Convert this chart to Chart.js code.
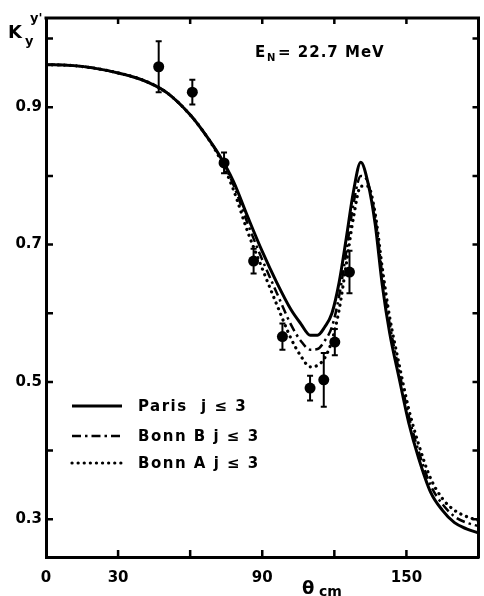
<!DOCTYPE html>
<html><head><meta charset="utf-8">
<script src="https://cdn.jsdelivr.net/npm/chart.js@4/dist/chart.umd.min.js"></script>
<style>html,body{margin:0;padding:0;background:#fff}#wrap{width:484px;height:596px}</style>
</head><body><div id="wrap"><canvas id="c" width="484" height="596"></canvas></div>
<script>
// ---- data ----
const angles = [0,10,20,30,40,50,60,66,72,78,84,90,96,102,106,110,113,116,119,122,125,128,131,134,137,140,143,147,151,155,160,165,170,175,180];
const parisK = [0.962,0.961,0.957,0.950,0.940,0.922,0.889,0.862,0.831,0.792,0.740,0.690,0.645,0.605,0.585,0.568,0.568,0.580,0.600,0.645,0.710,0.778,0.820,0.790,0.730,0.640,0.572,0.505,0.440,0.390,0.340,0.313,0.295,0.286,0.280];
const bonnBK = [0.962,0.961,0.957,0.950,0.940,0.922,0.889,0.862,0.830,0.787,0.730,0.678,0.630,0.583,0.560,0.547,0.548,0.560,0.580,0.625,0.690,0.760,0.800,0.790,0.740,0.655,0.585,0.515,0.450,0.400,0.350,0.322,0.304,0.295,0.290];
const bonnAK = [0.962,0.961,0.957,0.950,0.940,0.922,0.889,0.862,0.828,0.780,0.718,0.665,0.613,0.563,0.538,0.522,0.524,0.535,0.560,0.605,0.672,0.740,0.785,0.785,0.745,0.665,0.595,0.525,0.460,0.410,0.360,0.330,0.313,0.304,0.298];
const expAngles = [46.9,60.9,74.1,86.4,98.4,109.9,115.6,120.2,126.3];
const expK = [0.959,0.922,0.819,0.676,0.566,0.491,0.503,0.558,0.660];
const expErr = [0.037,0.018,0.015,0.018,0.019,0.018,0.039,0.019,0.031];
const xTickLabels = ['0','30','90','150'];
const yTickLabels = ['0.3','0.5','0.7','0.9'];
const seriesLabels = ['Paris  j ≤ 3','Bonn B j ≤ 3','Bonn A j ≤ 3'];
const energyLabel = '= 22.7 MeV';

const FONT = '"DejaVu Sans", sans-serif';
const pts = (xs, ys) => xs.map((x, i) => ({x, y: ys[i]}));

const curveStyles = [
  {borderWidth: 3, borderDash: []},
  {borderWidth: 2.5, borderDash: [9, 4, 2.5, 4]},
  {borderWidth: 3.2, borderDash: [0.1, 6], borderCapStyle: 'round'}
];
const curveData = [parisK, bonnBK, bonnAK];

const datasets = curveData.map((ys, i) => Object.assign({
  label: seriesLabels[i], data: pts(angles, ys), showLine: true, pointRadius: 0,
  borderColor: '#000', backgroundColor: '#000', cubicInterpolationMode: 'monotone', fill: false
}, curveStyles[i]));
datasets.push({label: 'exp', data: pts(expAngles, expK), showLine: false, pointRadius: 5.5,
  pointBackgroundColor: '#000', pointBorderColor: '#000', pointBorderWidth: 0});

const decor = {
  id: 'decor',
  beforeDatasetsDraw(chart) {
    const ctx = chart.ctx, xs = chart.scales.x, ys = chart.scales.y;
    ctx.save();
    ctx.strokeStyle = '#000'; ctx.lineWidth = 2;
    expAngles.forEach((a, i) => {
      const px = xs.getPixelForValue(a);
      const top = ys.getPixelForValue(expK[i] + expErr[i]);
      const bot = ys.getPixelForValue(expK[i] - expErr[i]);
      ctx.beginPath(); ctx.moveTo(px, top); ctx.lineTo(px, bot); ctx.stroke();
      ctx.beginPath(); ctx.moveTo(px - 3, top); ctx.lineTo(px + 3, top);
      ctx.moveTo(px - 3, bot); ctx.lineTo(px + 3, bot); ctx.stroke();
    });
    ctx.restore();
  },
  afterDraw(chart) {
    const ctx = chart.ctx, a = chart.chartArea, xs = chart.scales.x, ys = chart.scales.y;
    ctx.save();
    ctx.strokeStyle = '#000'; ctx.lineCap = 'square';
    ctx.lineWidth = 3;
    ctx.beginPath(); ctx.moveTo(a.left, a.top); ctx.lineTo(a.right, a.top); ctx.lineTo(a.right, a.bottom); ctx.stroke();
    ctx.lineWidth = 2.5; ctx.lineCap = 'butt';
    xs.ticks.forEach(t => {
      if (t.value <= xs.min || t.value >= xs.max) return;
      const px = xs.getPixelForValue(t.value);
      ctx.beginPath(); ctx.moveTo(px, a.bottom); ctx.lineTo(px, a.bottom - 7);
      ctx.moveTo(px, a.top); ctx.lineTo(px, a.top + 6); ctx.stroke();
    });
    ys.ticks.forEach(t => {
      if (t.value <= ys.min + 1e-6 || t.value >= ys.max - 1e-6) return;
      const py = ys.getPixelForValue(t.value);
      ctx.beginPath(); ctx.moveTo(a.left, py); ctx.lineTo(a.left + 7, py);
      ctx.moveTo(a.right, py); ctx.lineTo(a.right - 6, py); ctx.stroke();
    });
    // legend
    const lx0 = 72, lx1 = 122, tx = 138, ly = [406, 436, 463];
    chart.data.datasets.slice(0, 3).forEach((d, i) => {
      ctx.save();
      ctx.lineWidth = d.borderWidth; ctx.setLineDash(d.borderDash || []);
      ctx.lineCap = d.borderCapStyle || 'butt';
      ctx.beginPath(); ctx.moveTo(lx0, ly[i]); ctx.lineTo(lx1, ly[i]); ctx.stroke();
      ctx.restore();
      ctx.save();
      ctx.fillStyle = '#000'; ctx.font = 'bold 15px ' + FONT; ctx.textBaseline = 'middle'; ctx.textAlign = 'left';
      ctx.letterSpacing = '1.5px';
      ctx.fillText(d.label, tx, ly[i] + 1);
      ctx.restore();
    });
    // energy annotation
    ctx.save();
    ctx.fillStyle = '#000'; ctx.textBaseline = 'alphabetic'; ctx.textAlign = 'left';
    ctx.letterSpacing = '1px';
    ctx.font = 'bold 15px ' + FONT; ctx.fillText('E', 255, 57);
    ctx.font = 'bold 10px ' + FONT; ctx.fillText('N', 267, 61);
    ctx.font = 'bold 15px ' + FONT; ctx.fillText(energyLabel, 278, 57);
    ctx.restore();
    // y axis title  K_y^{y'}
    ctx.fillStyle = '#000'; ctx.textAlign = 'left'; ctx.textBaseline = 'alphabetic';
    ctx.font = 'bold 18px ' + FONT; ctx.fillText('K', 8, 38);
    ctx.font = 'bold 13px ' + FONT; ctx.fillText('y', 25, 45);
    ctx.fillText("y'", 30, 22);
    // x axis title θcm
    ctx.font = 'bold 18px ' + FONT; ctx.fillText('θ', 302, 594);
    ctx.font = 'bold 14px ' + FONT; ctx.fillText('cm', 319, 596);
    ctx.restore();
  }
};

new Chart(document.getElementById('c'), {
  type: 'scatter',
  data: {datasets},
  options: {
    responsive: false, animation: false, devicePixelRatio: 1,
    layout: {padding: {top: 18, right: 2, left: 0, bottom: 0}},
    plugins: {legend: {display: false}, tooltip: {enabled: false}},
    scales: {
      x: {
        type: 'linear', min: 0, max: 180,
        afterFit: s => { s.height = 39; s.paddingLeft = 0; s.paddingRight = 0; },
        grid: {display: false, drawTicks: false},
        border: {display: true, color: '#000', width: 3},
        ticks: {stepSize: 30, padding: 12, color: '#000', font: {family: FONT, size: 15, weight: 'bold'},
          maxRotation: 0, autoSkip: false,
          callback: v => xTickLabels.includes(String(v)) ? String(v) : ''}
      },
      y: {
        type: 'linear', min: 0.245, max: 1.03,
        afterFit: s => { s.width = 46; s.paddingTop = 0; s.paddingBottom = 0; },
        grid: {display: false, drawTicks: false},
        border: {display: true, color: '#000', width: 3},
        ticks: {stepSize: 0.1, padding: 4, color: '#000', font: {family: FONT, size: 15, weight: 'bold'},
          autoSkip: false,
          callback: v => { const m = yTickLabels.find(l => Math.abs(parseFloat(l) - v) < 1e-6); return m || ''; }}
      }
    }
  },
  plugins: [decor]
});
</script></body></html>
